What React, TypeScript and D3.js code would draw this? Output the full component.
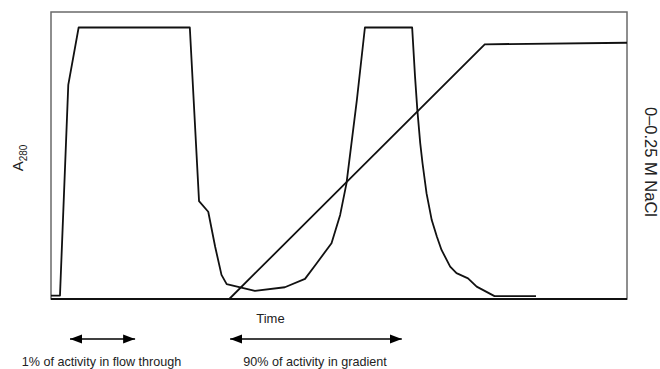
import React, { useRef, useEffect } from 'react';
import * as d3 from 'd3';

// Absorbance trace (time in arbitrary units 0-100, A280 relative 0-100)
const a280Time = [0, 1.56, 3.0, 4.8, 24.1, 25.7, 27.3, 28.5, 29.6, 30.5, 35.4, 40.6, 44.1, 46.1, 48.7, 50.2, 51.3, 53.1, 54.5, 62.7, 63.2, 63.6, 64.1, 64.5, 65.2, 66.1, 67.0, 67.8, 69.3, 70.4, 72.4, 73.9, 77.0, 84.2];
const a280Value = [1.2, 1.2, 74.6, 94.6, 94.6, 34.1, 30.4, 18.2, 8.4, 5.2, 2.8, 4.1, 7.0, 12.4, 19.4, 29.3, 40.3, 69.3, 94.6, 94.6, 77.5, 65.9, 54.3, 47.3, 36.8, 27.5, 21.7, 17.1, 11.3, 9.0, 7.2, 4.3, 1.0, 1.0];

// Salt gradient (M NaCl)
const saltTime = [30.95, 75.3, 100];
const saltValue = [0, 0.2485, 0.25];

// Activity ranges shown with arrows under the axis
const rangeLabels = ['1% of activity in flow through', '90% of activity in gradient'];
const rangeStart = [3.3, 31.1];
const rangeEnd = [14.6, 60.9];

const FONT = '"Liberation Sans", Arial, Helvetica, sans-serif';

const App = () => {
  const svgRef = useRef<SVGSVGElement>(null);

  useEffect(() => {
    d3.select(svgRef.current).selectAll('*').remove();

    const width = 660;
    const height = 369;
    const margin = { top: 12, right: 33, bottom: 70, left: 51 };
    const innerW = width - margin.left - margin.right;
    const innerH = height - margin.top - margin.bottom;

    const svg = d3.select(svgRef.current)
      .attr('width', width)
      .attr('height', height)
      .attr('viewBox', [0, 0, width, height])
      .style('font-family', FONT);

    const x = d3.scaleLinear().domain([0, 100]).range([0, innerW]);
    const y = d3.scaleLinear().domain([0, 100]).range([innerH, 0]);
    const y2 = d3.scaleLinear().domain([0, 0.28]).range([innerH, 0]);

    const g = svg.append('g').attr('transform', `translate(${margin.left},${margin.top})`);

    // frame
    g.append('rect')
      .attr('x', 0).attr('y', 0)
      .attr('width', innerW).attr('height', innerH)
      .attr('fill', 'none')
      .attr('stroke', '#6a6a6a')
      .attr('stroke-width', 1.5);
    g.append('line')
      .attr('x1', 0).attr('x2', innerW)
      .attr('y1', innerH).attr('y2', innerH)
      .attr('stroke', '#111')
      .attr('stroke-width', 2);

    const absData = a280Time.map((t, i) => [t, a280Value[i]] as [number, number]);
    const saltData = saltTime.map((t, i) => [t, saltValue[i]] as [number, number]);

    g.append('path')
      .datum(absData)
      .attr('fill', 'none')
      .attr('stroke', '#111')
      .attr('stroke-width', 1.8)
      .attr('stroke-linejoin', 'round')
      .attr('d', d3.line<[number, number]>().x(d => x(d[0])).y(d => y(d[1])));

    g.append('path')
      .datum(saltData)
      .attr('fill', 'none')
      .attr('stroke', '#111')
      .attr('stroke-width', 1.8)
      .attr('d', d3.line<[number, number]>().x(d => x(d[0])).y(d => y2(d[1])));

    // axis titles
    const a = svg.append('text')
      .attr('transform', `translate(23,158) rotate(-90)`)
      .attr('text-anchor', 'middle')
      .attr('fill', '#222')
      .style('font-size', '15px');
    a.append('tspan').text('A');
    a.append('tspan').attr('dy', 4).style('font-size', '10px').text('280');

    svg.append('text')
      .attr('transform', `translate(645,162) rotate(90)`)
      .attr('text-anchor', 'middle')
      .attr('fill', '#222')
      .style('font-size', '16.5px')
      .text('0–0.25 M NaCl');

    svg.append('text')
      .attr('x', margin.left + innerW * 0.381)
      .attr('y', 323)
      .attr('text-anchor', 'middle')
      .attr('fill', '#222')
      .style('font-size', '13px')
      .text('Time');

    // double-headed arrows and their labels
    const defs = svg.append('defs');
    defs.append('marker')
      .attr('id', 'head')
      .attr('viewBox', '0 0 12 10')
      .attr('refX', 12).attr('refY', 5)
      .attr('markerWidth', 12).attr('markerHeight', 10)
      .attr('markerUnits', 'userSpaceOnUse')
      .attr('orient', 'auto-start-reverse')
      .append('path')
      .attr('d', 'M0,0.5 L12,5 L0,9.5 Z')
      .attr('fill', '#000');

    const arrowY = 339;
    rangeLabels.forEach((label, i) => {
      const x1 = margin.left + x(rangeStart[i]);
      const x2 = margin.left + x(rangeEnd[i]);
      svg.append('line')
        .attr('x1', x1).attr('x2', x2)
        .attr('y1', arrowY).attr('y2', arrowY)
        .attr('stroke', '#000')
        .attr('stroke-width', 1.5)
        .attr('marker-start', 'url(#head)')
        .attr('marker-end', 'url(#head)');
      svg.append('text')
        .attr('x', (x1 + x2) / 2 + (i === 0 ? -1 : -1))
        .attr('y', 365.5)
        .attr('text-anchor', 'middle')
        .attr('fill', '#222')
        .style('font-size', '12.6px')
        .text(label);
    });
  }, []);

  return (
    <div style={{ position: 'absolute', left: 0, top: 0 }}>
      <svg ref={svgRef}></svg>
    </div>
  );
};

export default App;
